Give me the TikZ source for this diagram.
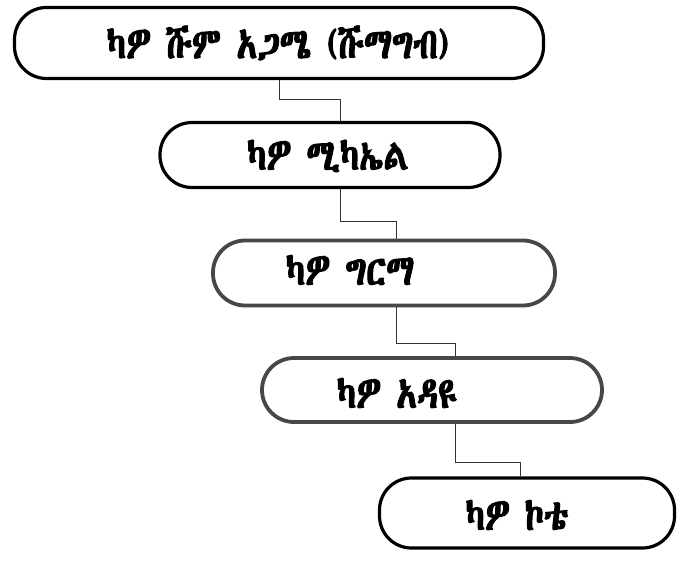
\documentclass[tikz,border=0pt]{standalone}
\usepackage{fontspec}
\usepackage{graphicx}
\IfFontExistsTF{Abyssinica SIL}
  {\newfontfamily\eth[Script=Ethiopic,FakeBold=3]{Abyssinica SIL}}
  {\newfontfamily\eth[Script=Ethiopic,FakeBold=3]{FreeSerif.otf}}
\newcommand{\tallTxt}[1]{\scalebox{1}[1.25]{#1}}
\begin{document}
\begin{tikzpicture}[x=1pt,y=-1pt,
  box/.style={draw=black,line width=3.2pt,rounded corners=32pt,fill=none,inner sep=0pt},
  greybox/.style={box,draw=black!72,line width=3.8pt},
  lbl/.style={font=\eth\fontsize{34}{38}\selectfont,inner sep=0pt},
  conn/.style={draw=black!80,line width=1pt}]
\useasboundingbox (0,0) rectangle (679,564);
\node[box,minimum width=529pt,minimum height=71pt] (n1) at (279,43) {};
\node[box,minimum width=340pt,minimum height=65pt] (n2) at (330,155) {};
\node[greybox,minimum width=342pt,minimum height=65pt] (n3) at (384,273) {};
\node[greybox,minimum width=340pt,minimum height=64pt] (n4) at (432,390) {};
\node[box,minimum width=295pt,minimum height=70pt] (n5) at (527,513) {};
\node[lbl] (t1) at (278,43) {\tallTxt{ካዎ ሹም አጋሜ (ሹማግብ)}};
\node[lbl] (t2) at (328,156) {\tallTxt{ካዎ ሚካኤል}};
\node[lbl] (t3) at (350,270) {\tallTxt{ካዎ ግርማ}};
\node[lbl] (t4) at (397,393) {\tallTxt{ካዎ አዳዩ}};
\node[lbl] (t5) at (517,515) {\tallTxt{ካዎ ኮቴ}};
\coordinate (j1) at (340,100);
\coordinate (j2) at (396,221);
\coordinate (j3) at (455,343);
\coordinate (j4) at (520,462);
\draw[conn] (n1.south) |- (j1) -- (j1 |- n2.north);
\draw[conn] (j1 |- n2.south) |- (j2) -- (j2 |- n3.north);
\draw[conn] (j2 |- n3.south) |- (j3) -- (j3 |- n4.north);
\draw[conn] (j3 |- n4.south) |- (j4) -- (j4 |- n5.north);
\end{tikzpicture}
\end{document}
